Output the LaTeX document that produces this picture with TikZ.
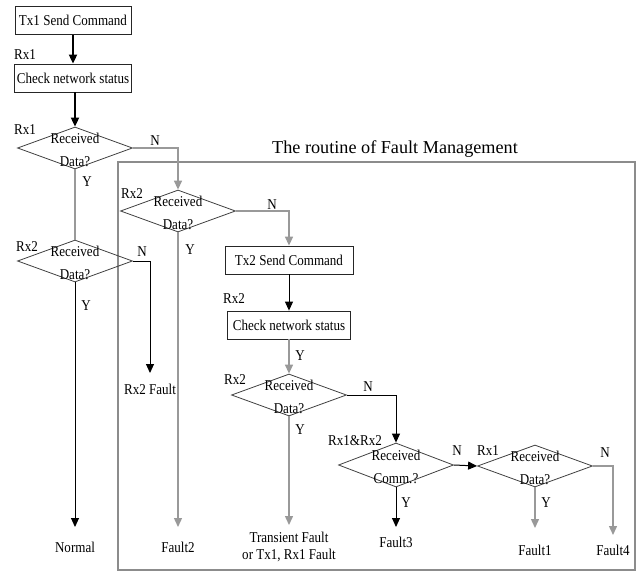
\documentclass[tikz,border=0pt]{standalone}
\usepackage{fontspec}
\setmainfont{Liberation Serif}[FakeStretch=0.87]
\newfontfamily\titlefont{Liberation Serif}
\usetikzlibrary{arrows.meta,shapes.geometric}

\begin{document}
\begin{tikzpicture}[x=1bp,y=-1bp,
  txt/.style={font=\fontsize{15bp}{23bp}\selectfont, inner sep=0},
  stepbox/.style={draw=black!85, line width=0.8bp, minimum height=28bp,
    inner sep=0, font=\fontsize{15bp}{17bp}\selectfont},
  decision/.style={diamond, draw=black!75, line width=0.8bp,
    minimum width=115bp, minimum height=42bp, inner sep=0},
  dtext/.style={txt, align=center},
  endlbl/.style={anchor=north, inner xsep=1bp,
    font=\fontsize{15bp}{16.5bp}\selectfont, align=center},
  tip/.style={-{Triangle[length=9bp,width=8bp]}},
  heavy/.style={draw=black, line width=1.8bp, tip},
  blk/.style={draw=black, line width=1bp, tip},
  gry/.style={draw=black!40, line width=1.4bp, tip},
  grynotip/.style={draw=black!40, line width=1.4bp},
  frame/.style={draw=black!45, line width=1.2bp}
]
\useasboundingbox (0,0) rectangle (643,576);

% fault management frame and its title
\draw[frame] (118,162) rectangle (635,570);
\node[inner sep=0, font=\titlefont\fontsize{18.2bp}{20bp}\selectfont] (title) at (395,149)
  {The routine of Fault Management};

% process boxes
\node[stepbox, minimum width=116bp] (b1) at (73,20.5) {Tx1 Send Command};
\node[stepbox, minimum width=117bp] (b2) at (73,78) {Check network status};
\node[stepbox, minimum width=128bp] (tx2) at (289,260) {Tx2 Send Command};
\node[stepbox, minimum width=123bp] (chk2) at (289,325) {Check network status};

% decisions
\node[decision] (d1) at (75,148) {};
\node[decision] (d2) at (178,211) {};
\node[decision] (d3) at (75,261) {};
\node[decision] (d4) at (289,395) {};
\node[decision, minimum height=44bp] (d5) at (396,465) {};
\node[decision] (d6) at (535,466) {};

\node[dtext, yshift=-2bp] (t1) at (d1) {Received\\Data?};
\node[dtext, yshift=-2bp] (t2) at (d2) {Received\\Data?};
\node[dtext, yshift=-2bp] (t3) at (d3) {Received\\Data?};
\node[dtext, yshift=-2bp] (t4) at (d4) {Received\\Data?};
\node[dtext, yshift=-2bp] (t5) at (d5) {Received\\Comm.?};
\node[dtext, yshift=-2bp] (t6) at (d6) {Received\\Data?};

% outcomes
\node[endlbl, inner ysep=11bp] (rx2f) at (150,373) {Rx2 Fault};
\node[endlbl, inner ysep=15bp] (normal) at (75,527) {Normal};
\node[endlbl, inner ysep=15bp] (f2) at (178,527) {Fault2};
\node[endlbl, inner ysep=7bp] (trans) at (289,525) {Transient Fault\\or Tx1, Rx1 Fault};
\node[endlbl, inner ysep=10bp] (f3) at (396,527) {Fault3};
\node[endlbl, inner ysep=17bp] (f1) at (535,528) {Fault1};
\node[endlbl, inner ysep=10bp] (f4) at (613,535) {Fault4};

% receiver tags
\node[txt] (r1) at (25,55) {Rx1};
\node[txt] (r2) at (25,130) {Rx1};
\node[txt] (r3) at (27,247) {Rx2};
\node[txt] (r4) at (132,194) {Rx2};
\node[txt] (r5) at (234,299) {Rx2};
\node[txt] (r6) at (235,380) {Rx2};
\node[txt] (r7) at (355,441) {Rx1\&Rx2};
\node[txt] (r8) at (488,451) {Rx1};

% branch letters
\node[txt] (n1) at (155,141) {N};
\node[txt] (n2) at (272,205) {N};
\node[txt] (n3) at (142,252) {N};
\node[txt] (n4) at (368,387) {N};
\node[txt] (n5) at (457,451) {N};
\node[txt] (n6) at (605,453) {N};
\node[txt] (y1) at (87,182) {Y};
\node[txt] (y2) at (190,250) {Y};
\node[txt] (y3) at (86,306) {Y};
\node[txt] (y4) at (300,356) {Y};
\node[txt] (y5) at (300,430) {Y};
\node[txt] (y6) at (406,503) {Y};
\node[txt] (y7) at (546,503) {Y};

% connectors
\draw[heavy] (b1.south) -- (b2.north);
\draw[heavy] (b2.south -| d1.north) -- (d1.north);
\draw[gry] (d1.east) -| (d2.north);
\draw[grynotip] (d1.south) -- (d3.north);
\draw[blk] (d3.east) -| (rx2f.north);
\draw[blk] (d3.south) -- (normal.north);
\draw[gry] (d2.east) -| (tx2.north);
\draw[gry] (d2.south) -- (f2.north);
\draw[blk] (tx2.south) -- (chk2.north);
\draw[gry] (chk2.south) -- (d4.north);
\draw[blk] (d4.east) -| (d5.north);
\draw[gry] (d4.south) -- (trans.north);
\draw[blk] (d5.east) -- (d6.west);
\draw[blk] (d5.south) -- (f3.north);
\draw[gry] (d6.south) -- (f1.north);
\draw[gry] (d6.east) -| (f4.north);
\end{tikzpicture}
\end{document}
